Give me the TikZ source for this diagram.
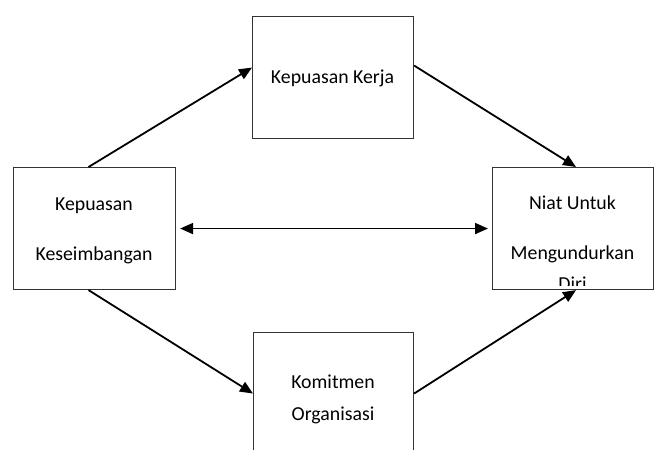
\documentclass[tikz,border=0pt]{standalone}
\usepackage{fontspec}
\setmainfont{Carlito}
\usetikzlibrary{arrows.meta,calc}
\begin{document}
\begin{tikzpicture}[x=1pt,y=-1pt,
  box/.style={rectangle,draw=black!80,line width=1.1pt,inner sep=0pt,
    minimum width=161pt,minimum height=122pt,anchor=north west},
  lbl/.style={anchor=base,inner sep=0pt,text=black,
    font=\fontsize{19.8}{22}\selectfont},
  conn/.style={line width=1.8pt,draw=black,-{Triangle[length=13pt,width=11pt]}},
  dconn/.style={line width=1.8pt,draw=black,{Triangle[length=13pt,width=11pt]}-{Triangle[length=13pt,width=11pt]}}]
\useasboundingbox (0,0) rectangle (654,450);
\clip (0,0) rectangle (654,450);
% boxes
\node[box,minimum width=162pt] (lb) at (13,167) {};
\node[box] (tb) at (252,16) {};
\node[box] (rb) at (492,167) {};
\node[box,minimum width=160pt,minimum height=130pt] (bb) at (253,332) {};
% labels
\node[lbl] (l1) at (94,210) {Kepuasan};
\node[lbl] (l2) at (94,260) {Keseimbangan};
\node[lbl] (t1) at (332.5,83) {Kepuasan Kerja};
\node[lbl] (r1) at (572.5,209) {Niat Untuk};
\node[lbl] (r2) at (572.5,259) {Mengundurkan};
\begin{scope}
  \clip (rb.north west) rectangle ([yshift=5pt]rb.south east);
  \node[lbl] (r3) at (572.5,290) {Diri};
\end{scope}
\node[lbl] (b1) at (333,388) {Komitmen};
\node[lbl] (b2) at (333,420) {Organisasi};
% connectors
\draw[conn] ([xshift=-6pt]lb.north) -- ([yshift=10pt]tb.west);
\draw[conn] ([yshift=12pt]tb.east) -- ([xshift=3pt]rb.north);
\draw[conn] ([xshift=-6pt]lb.south) -- ([yshift=4pt]bb.west);
\draw[conn] ([yshift=4pt]bb.east) -- ([xshift=3pt]rb.south);
\draw[dconn,shorten <=4pt,shorten >=4pt] (lb.east) -- (rb.west);
\end{tikzpicture}
\end{document}
